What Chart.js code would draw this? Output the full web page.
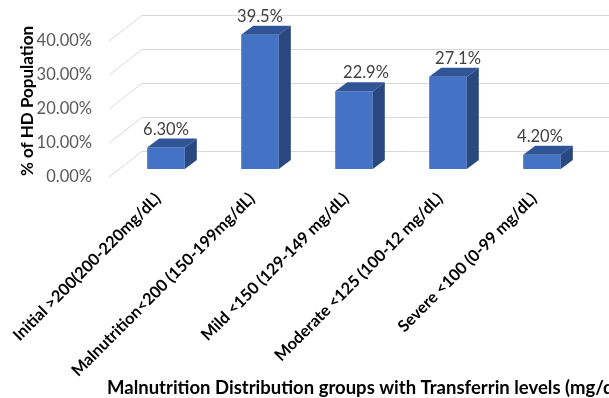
<!DOCTYPE html>
<html>
<head>
<meta charset="utf-8">
<script src="https://cdn.jsdelivr.net/npm/chart.js@4"></script>
<style>
  html, body { margin: 0; padding: 0; background: #fff; }
</style>
</head>
<body>
<canvas id="chart" width="609" height="398"></canvas>
<script>
// data
const categories = [
    "Initial >200(200-220mg/dL)",
    "Malnutrition<200 (150-199mg/dL)",
    "Mild <150 (129-149 mg/dL)",
    "Moderate <125 (100-12 mg/dL)",
    "Severe <100 (0-99 mg/dL)"
];
const shares = [0.063, 0.395, 0.229, 0.271, 0.042];
const valueLabels = ["6.30%", "39.5%", "22.9%", "27.1%", "4.20%"];
const yTickValues = [0, 0.1, 0.2, 0.3, 0.4];
const yTickLabels = ["0.00%", "10.00%", "20.00%", "30.00%", "40.00%"];
const xTitle = "Malnutrition Distribution groups with Transferrin levels (mg/dL)";
const yTitle = "% of HD Population";

const FONT = "Lato, 'Liberation Sans', sans-serif";

// fake 3D: side + top faces, back wall grid, value labels
const bar3d = {
    id: "bar3d",
    beforeDatasetsDraw(chart) {
        const { ctx, chartArea, scales } = chart;
        ctx.save();
        ctx.strokeStyle = "#d9d9d9";
        ctx.lineWidth = 1;
        yTickValues.forEach(v => {
            const y = scales.y.getPixelForValue(v);
            ctx.beginPath();
            ctx.moveTo(chartArea.left - 10, y + 8);
            ctx.lineTo(chartArea.left + 23, y - 17.5);
            ctx.lineTo(chart.width, y - 17.5);
            ctx.stroke();
        });
        ctx.restore();
    },
    afterDatasetsDraw(chart) {
        const { ctx } = chart;
        const dx = 12, dy = -9;
        const nudge = [0, 0, 12, 10, -2];
        chart.getDatasetMeta(0).data.forEach((bar, i) => {
            const l = bar.x - bar.width / 2, r = bar.x + bar.width / 2;
            ctx.save();
            ctx.fillStyle = "#2f5597";
            ctx.beginPath();
            ctx.moveTo(l, bar.y);
            ctx.lineTo(r, bar.y);
            ctx.lineTo(r + dx, bar.y + dy);
            ctx.lineTo(l + dx, bar.y + dy);
            ctx.closePath();
            ctx.fill();
            ctx.fillStyle = "#28487f";
            ctx.beginPath();
            ctx.moveTo(r, bar.y);
            ctx.lineTo(r + dx, bar.y + dy);
            ctx.lineTo(r + dx, bar.base + dy);
            ctx.lineTo(r, bar.base);
            ctx.closePath();
            ctx.fill();

            ctx.fillStyle = "#404040";
            ctx.font = "16.5px " + FONT;
            ctx.textAlign = "center";
            ctx.textBaseline = "middle";
            ctx.fillText(valueLabels[i], bar.x + nudge[i], bar.y - 18);
            ctx.restore();
        });
    },
    afterDraw(chart) {
        const { ctx } = chart;
        ctx.save();
        ctx.fillStyle = "#000";
        ctx.font = "bold 18.5px " + FONT;
        ctx.textAlign = "left";
        ctx.textBaseline = "middle";
        ctx.fillText(xTitle, 107, 388);
        ctx.restore();
    }
};

new Chart(document.getElementById("chart"), {
    type: "bar",
    data: {
        labels: categories,
        datasets: [{
            data: shares,
            backgroundColor: "#4472c4",
            barPercentage: 0.8,
            categoryPercentage: 0.5
        }]
    },
    options: {
        responsive: false,
        animation: false,
        layout: { padding: { left: 0, right: 20, top: 33, bottom: 0 } },
        plugins: {
            legend: { display: false },
            tooltip: { enabled: false }
        },
        scales: {
            x: {
                grid: { display: false, drawTicks: false },
                border: { display: false },
                ticks: {
                    color: "#000",
                    font: { family: FONT, size: 16.3, weight: "bold" },
                    minRotation: 45,
                    maxRotation: 45,
                    autoSkip: false,
                    padding: 20,
                    labelOffset: -8
                },
                afterFit(scale) {
                    scale.height = 229;
                    scale.paddingLeft = 0;
                    scale.paddingRight = 0;
                }
            },
            y: {
                min: 0,
                max: 0.4,
                afterBuildTicks(scale) {
                    scale.ticks = yTickValues.map(v => ({ value: v }));
                },
                grid: { display: false, drawTicks: false },
                border: { display: false },
                ticks: {
                    color: "#595959",
                    font: { family: FONT, size: 16.5 },
                    padding: 27,
                    labelOffset: 8,
                    callback: (v, i) => yTickLabels[i]
                },
                title: {
                    display: true,
                    text: yTitle,
                    color: "#000",
                    font: { family: FONT, size: 17, weight: "bold" },
                    padding: { top: 17, bottom: 0 }
                },
                afterFit(scale) {
                    scale.width = 119;
                    scale.paddingTop = 0;
                    scale.paddingBottom = 0;
                }
            }
        }
    },
    plugins: [bar3d]
});
</script>
</body>
</html>
